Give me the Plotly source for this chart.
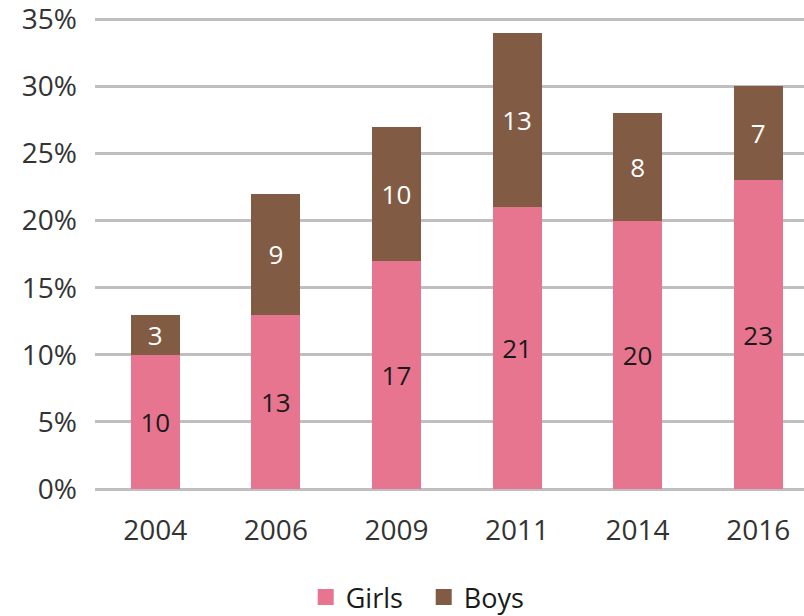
import plotly.graph_objects as go

years = ["2004", "2006", "2009", "2011", "2014", "2016"]
girls = [10, 13, 17, 21, 20, 23]
boys = [3, 9, 10, 13, 8, 7]
y_ticks = [0, 5, 10, 15, 20, 25, 30, 35]
y_tick_labels = [f"{v}%" for v in y_ticks]

FONT = "Open Sans, DejaVu Sans, sans-serif"
PINK = "#E8758F"
BROWN = "#825B45"
GRID = "#BFBFC1"

fig = go.Figure()
fig.add_trace(go.Bar(
    name="Girls", x=years, y=girls, marker_color=PINK,
    marker_line_width=0, showlegend=False,
    text=[str(v) for v in girls], textposition="inside", textangle=0,
    insidetextanchor="middle", constraintext="none",
    textfont=dict(family=FONT, size=26, color="#1a1a1a"),
))
fig.add_trace(go.Bar(
    name="Boys", x=years, y=boys, marker_color=BROWN,
    marker_line_width=0, showlegend=False,
    text=[str(v) for v in boys], textposition="inside", textangle=0,
    insidetextanchor="middle", constraintext="none",
    textfont=dict(family=FONT, size=26, color="#ffffff"),
))
# legend-only entries with larger square swatches
for name, col in [("Girls", PINK), ("Boys", BROWN)]:
    fig.add_trace(go.Scatter(
        name=name, x=[None], y=[None], mode="markers",
        marker=dict(symbol="square", size=20, color=col),
        showlegend=True,
    ))

fig.update_layout(
    barmode="stack",
    bargap=0.594,
    width=804, height=616,
    margin=dict(l=95, r=0, t=18, b=127, autoexpand=False),
    plot_bgcolor="white", paper_bgcolor="white",
    font=dict(family=FONT, size=28, color="#333333"),
    uniformtext=dict(minsize=26, mode="show"),
    legend=dict(
        orientation="h", x=0.2972, xref="paper", xanchor="left",
        y=-0.2303, yanchor="middle",
        font=dict(family=FONT, size=27, color="#1a1a1a"),
        itemsizing="trace", traceorder="normal",
        itemwidth=30, entrywidth=73,
        bgcolor="rgba(0,0,0,0)",
    ),
    xaxis=dict(
        type="category", range=[-0.5, 5.38], automargin=False,
        showgrid=False, zeroline=False, showline=False,
        ticks="", ticklabelstandoff=22,
        tickfont=dict(family=FONT, size=28, color="#333333"),
    ),
    yaxis=dict(
        range=[0, 35.1], tickvals=y_ticks, ticktext=y_tick_labels,
        automargin=False, ticklabeloverflow="allow",
        showgrid=True, gridcolor=GRID, gridwidth=3,
        zeroline=True, zerolinecolor=GRID, zerolinewidth=3,
        showline=False, ticks="",
        ticklabelstandoff=17,
        tickfont=dict(family=FONT, size=28, color="#333333"),
    ),
)

fig.write_html(
    "out.html",
    config={"displayModeBar": False},
    post_script="document.body.style.margin='0';document.body.style.padding='0';",
)
